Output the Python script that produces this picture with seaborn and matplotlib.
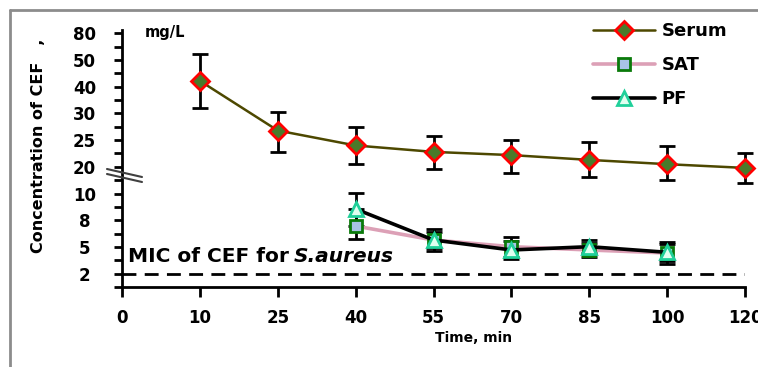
import numpy as np
import matplotlib
matplotlib.use("Agg")
import matplotlib.pyplot as plt
import seaborn as sns
from matplotlib.lines import Line2D

# time points on the x axis (equally spaced categories)
times = [0, 10, 25, 40, 55, 70, 85, 100, 120]

# serum concentration (mg/L) with error bar ends
serum_t = [10, 25, 40, 55, 70, 85, 100, 120]
serum = [42.2, 26.8, 24.0, 22.8, 22.2, 21.3, 20.5, 19.6]
serum_lo = [32.0, 22.8, 20.5, 19.1, 17.6, 16.1, 15.1, 14.0]
serum_hi = [56.5, 30.6, 27.4, 25.8, 25.0, 24.6, 23.9, 22.5]

# tissue fluids
fluid_t = [40, 55, 70, 85, 100]
sat = [7.35, 5.78, 5.03, 4.66, 4.32]
sat_err = [1.49, 1.23, 1.13, 0.83, 1.22]
pf = [8.84, 5.78, 4.66, 5.03, 4.40]
pf_err = [1.46, 0.93, 1.01, 0.73, 0.93]

mic = 2
ytick_vals = [2, 5, 8, 10, 20, 25, 30, 40, 50, 80]

# broken axis: labelled values sit at equal steps
scale_vals = [0, 2, 5, 8, 10, 20, 25, 30, 40, 50, 80, 110]
scale_pos = [0, 1, 3, 5, 7, 9, 11, 13, 15, 17, 19, 21]


def fwd(v):
    return np.interp(v, scale_vals, scale_pos)


def inv(u):
    return np.interp(u, scale_pos, scale_vals)


sns.set_style("white")
plt.rcParams["font.family"] = ["DejaVu Sans"]
plt.rcParams["font.weight"] = "bold"
for k in ["text.color", "axes.labelcolor", "xtick.color", "ytick.color"]:
    plt.rcParams[k] = "black"

W, H = 758, 367
fig = plt.figure(figsize=(W / 100, H / 100), dpi=100)
ax = fig.add_axes([122 / W, 1 - 287 / H, (745 - 122) / W, (287 - 30) / H])
ax.set_yscale("function", functions=(fwd, inv))

xpos = {t: i for i, t in enumerate(times)}
sx = [xpos[t] for t in serum_t]
fx = [xpos[t] for t in fluid_t]

# error bars
eb = dict(fmt="none", ecolor="black", elinewidth=2, capsize=6, capthick=2, zorder=1.5, clip_on=False)
ax.errorbar(sx, serum, yerr=[np.subtract(serum, serum_lo), np.subtract(serum_hi, serum)], **eb)
ax.errorbar(fx, sat, yerr=sat_err, **eb)
ax.errorbar(fx, pf, yerr=pf_err, **eb)

sns.lineplot(x=sx, y=serum, ax=ax, color="#4d4800", lw=1.8, marker="D", ms=9,
             mfc="#4a7a2a", mec="#ff0000", mew=2, label="Serum", clip_on=False)
sns.lineplot(x=fx, y=sat, ax=ax, color="#dca0b6", lw=2.6, marker="s", ms=8,
             mfc="#a9c3e6", mec="#0a7a0a", mew=2, label="SAT", clip_on=False)
sns.lineplot(x=fx, y=pf, ax=ax, color="black", lw=2.6, marker="^", ms=10,
             mfc="#e0fff0", mec="#20d09a", mew=2, label="PF", clip_on=False)

# MIC line
ax.axhline(mic, color="black", lw=2, ls=(0, (5, 3)), zorder=1)

ax.set_xlim(0, len(times) - 1)
ax.set_ylim(0, inv(19.25))
ax.set_xticks(range(len(times)))
ax.set_xticklabels([str(t) for t in times])
ax.set_yticks(ytick_vals)
ax.set_yticklabels([str(v) for v in ytick_vals])
ax.set_yticks(inv(np.arange(0, 19, 2)), minor=True)
ax.tick_params(axis="x", direction="out", length=7, width=2, pad=9, labelsize=12, bottom=True)
ax.tick_params(axis="y", which="both", direction="out", length=6, width=2, pad=21,
               labelsize=12, left=True)
for lab in ax.get_yticklabels():
    lab.set_ha("center")
    lab.set_fontweight("bold")
for lab in ax.get_xticklabels():
    lab.set_fontweight("bold")

sns.despine(ax=ax)
for s in ["left", "bottom"]:
    ax.spines[s].set_linewidth(2)
    ax.spines[s].set_color("black")

ax.legend(loc="upper left", bbox_to_anchor=(586 / W, 1 - 15 / H), bbox_transform=fig.transFigure,
          frameon=False, prop={"size": 13, "weight": "bold"}, handlelength=3.4,
          labelspacing=0.88, handletextpad=0.4, borderaxespad=0)

# axis break marks
for dy in (0, 5):
    fig.add_artist(Line2D([107 / W, 142 / W], [1 - (169 + dy) / H, 1 - (177 + dy) / H],
                          color="#404040", lw=1.5))

# labels
fig.text(39 / W, 1 - 146 / H, "Concentration of CEF   ,", rotation=90, ha="center", va="center",
         fontsize=11.5, fontweight="bold")
fig.text(145 / W, 1 - 33 / H, "mg/L", ha="left", va="center", fontsize=10.5, fontweight="bold")
fig.text(474 / W, 1 - 338 / H, "Time, min", ha="center", va="center", fontsize=10,
         fontweight="bold")

t1 = ax.text(128 / W, 1 - 256 / H, "MIC of CEF for ", transform=fig.transFigure,
             ha="left", va="center", fontsize=14.5, fontweight="bold")
fig.canvas.draw()
bb = t1.get_window_extent()
fig.text(bb.x1 / W - 2 / W, 1 - 256 / H, "S.aureus", ha="left", va="center", fontsize=14.5,
         fontweight="bold", style="italic")

# gray chart frame
fig.add_artist(Line2D([10 / W, 10 / W], [0, 1 - 10 / H], color="#8c8c8c", lw=2))
fig.add_artist(Line2D([10 / W, 1], [1 - 10 / H, 1 - 10 / H], color="#8c8c8c", lw=2))

fig.savefig("out.png", dpi=100)
